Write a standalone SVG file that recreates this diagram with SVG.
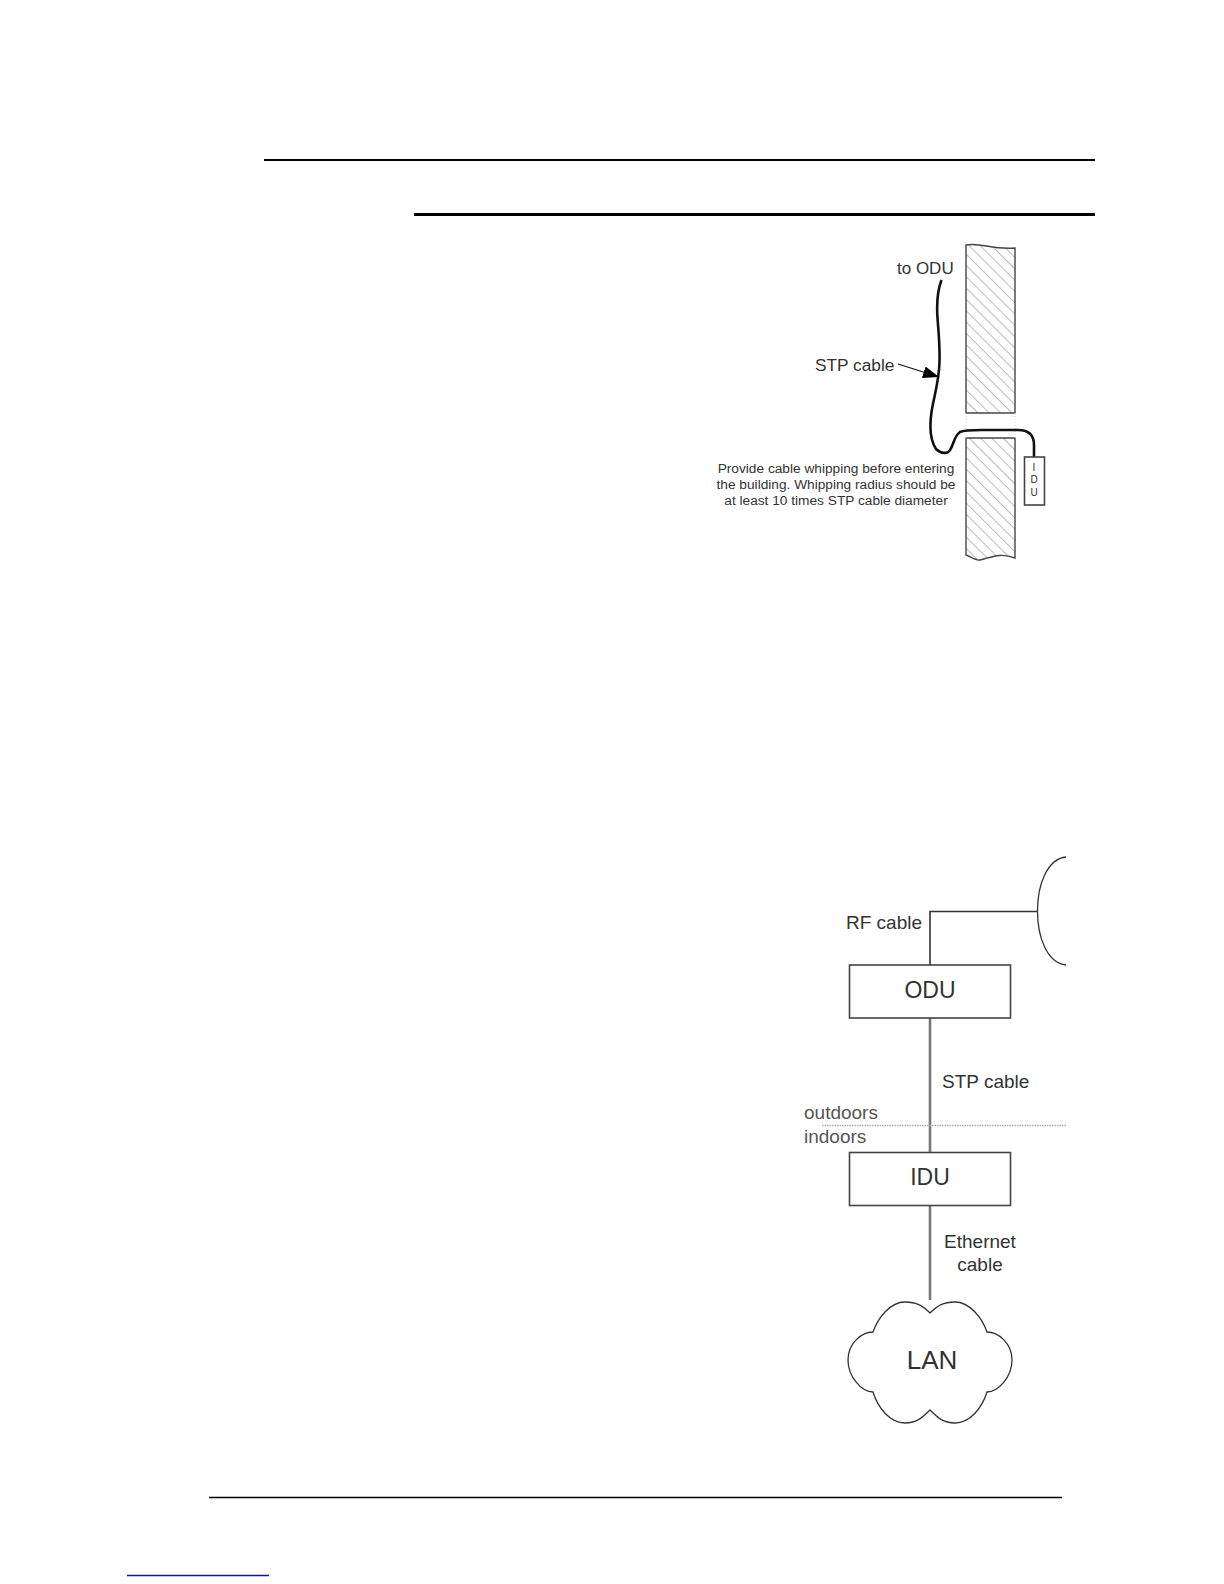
<svg xmlns="http://www.w3.org/2000/svg" width="1224" height="1584" viewBox="0 0 1224 1584">
<style>
text{font-family:"Liberation Sans",Arial,sans-serif;fill:#333}
.box{fill:#fff;stroke:#444;stroke-width:1.6}
.wall{fill:url(#hatch);stroke:#444;stroke-width:1.4}
.cable{fill:none;stroke:#777;stroke-width:2.6}
.thin{fill:none;stroke:#333;stroke-width:1.3}
.rule{stroke:#000}
</style>
<defs>
<pattern id="hatch" patternUnits="userSpaceOnUse" width="8" height="8" patternTransform="rotate(45)"><rect width="8" height="8" fill="#fff"/><line x1="0" y1="0" x2="8" y2="0" stroke="#b5b5b5" stroke-width="1.8"/></pattern>
<marker id="arr" markerUnits="userSpaceOnUse" markerWidth="18" markerHeight="14" refX="16" refY="6" orient="auto"><path d="M0 0L16 6L0 12Z" fill="#000"/></marker>
</defs>
<rect width="1224" height="1584" fill="#fff"/>
<g id="rules">
<line class="rule" x1="264" y1="160" x2="1095" y2="160" stroke-width="2"/>
<line class="rule" x1="414" y1="214.500" x2="1095" y2="214.500" stroke-width="3"/>
<line class="rule" x1="209" y1="1497.500" x2="1062" y2="1497.500" stroke-width="1.300"/>
<line x1="127" y1="1575.500" x2="269" y2="1575.500" stroke="#0a1a8c" stroke-width="1.300"/>
</g>
<g id="wall-upper"><path class="wall" d="M966 245C980 242 992 250 1015 248V413H966Z"/></g>
<g id="wall-lower"><path class="wall" d="M966 438H1015V558C1000 552 990 558 980 560C975 561 970 556 966 555Z"/></g>
<g id="wall-gap" stroke="#ccc" stroke-width="1" stroke-dasharray="1 2"><line x1="966" y1="413" x2="966" y2="438"/><line x1="1015" y1="413" x2="1015" y2="438"/></g>
<g id="cable-whip"><path d="M941.500 280C937 292 936.500 304 937.500 318C938.500 332 940 345 939.500 362C939 382 934 396 931.500 412C929.500 426 930 440 936 449C941 454 948 454 950 450C954 444 954 436 960 432C965 429.500 975 430 990 430H1018C1030 430 1034 436 1034 445V457" fill="none" stroke="#111" stroke-width="2.600"/></g>
<g id="idu-small"><rect class="box" x="1024.500" y="457" width="20" height="48"/>
<text x="1034" y="471" font-size="10" text-anchor="middle">I</text><text x="1034" y="483" font-size="10" text-anchor="middle">D</text><text x="1034" y="496" font-size="10" text-anchor="middle">U</text></g>
<g id="labels-top">
<text x="897" y="273.500" font-size="17">to ODU</text>
<text x="815" y="370.500" font-size="17.300">STP cable</text>
<text x="836" y="473" font-size="13.700" text-anchor="middle">Provide cable whipping before entering</text>
<text x="836" y="489" font-size="13.700" text-anchor="middle">the building. Whipping radius should be</text>
<text x="836" y="505" font-size="13.700" text-anchor="middle">at least 10 times STP cable diameter</text>
</g>
<g id="connectors-top"><line x1="898" y1="364" x2="939" y2="377" stroke="#111" stroke-width="1.300" marker-end="url(#arr)"/></g>
<g id="connectors">
<path class="thin" d="M1037.500 911.500H930V965" style="stroke-width:1.600"/>
<line class="cable" x1="930" y1="1018" x2="930" y2="1152"/>
<line class="cable" x1="930" y1="1206" x2="930" y2="1300"/>
<line x1="822" y1="1125.500" x2="1066" y2="1125.500" stroke="#aaa" stroke-width="1.400" stroke-dasharray="1.500 1"/>
</g>
<g id="antenna"><path class="thin" d="M1066 857C1047 859 1037.500 885 1037.500 911C1037.500 937 1047 963 1066 965"/></g>
<g id="odu"><rect class="box" x="849.500" y="965" width="161" height="53"/><text x="930" y="998" font-size="23" text-anchor="middle">ODU</text></g>
<g id="idu"><rect class="box" x="849.500" y="1152.500" width="161" height="53"/><text x="930" y="1185" font-size="23" text-anchor="middle">IDU</text></g>
<g id="lan"><path class="thin" d="M930 1313C923 1306 917 1302 905 1302C890 1302 878 1318 873 1332C862 1332 848 1343 848 1360C848 1377 862 1392 873 1392C878 1408 890 1423 905 1423C917 1423 923 1417 930 1410C937 1417 943 1423 955 1423C970 1423 982 1408 987 1392C998 1392 1012 1377 1012 1360C1012 1343 998 1332 987 1332C982 1318 970 1302 955 1302C943 1302 937 1306 930 1313Z"/><text x="932" y="1369" font-size="26" text-anchor="middle">LAN</text></g>
<g id="labels-bottom">
<text x="846" y="928.500" font-size="19">RF cable</text>
<text x="942" y="1087.500" font-size="19">STP cable</text>
<text x="804" y="1118.500" font-size="19" style="fill:#555">outdoors</text>
<text x="804" y="1142.500" font-size="19" style="fill:#555">indoors</text>
<text x="980" y="1247.500" font-size="19" text-anchor="middle">Ethernet</text>
<text x="980" y="1270.500" font-size="19" text-anchor="middle">cable</text>
</g>
</svg>
